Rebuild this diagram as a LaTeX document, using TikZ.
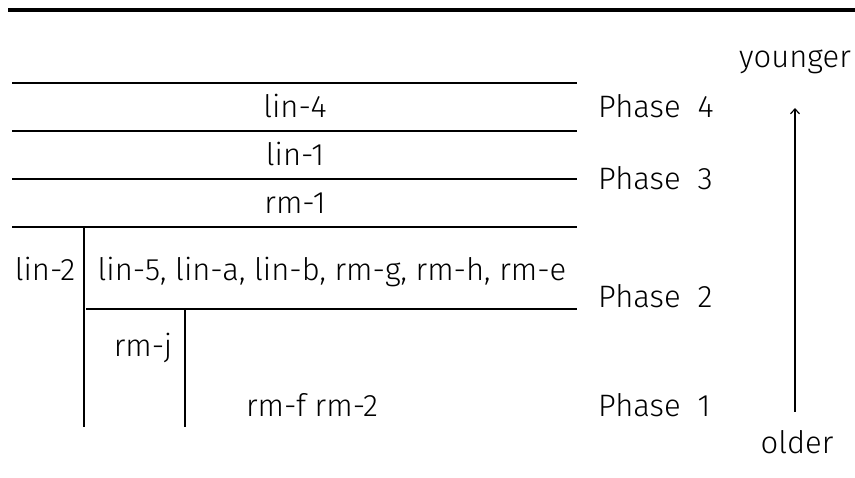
\documentclass[tikz,border=0pt]{standalone}
\usepackage{fontspec}
\setmainfont{Fira Sans Light}
\usetikzlibrary{arrows.meta,positioning}
\tikzset{
    rule/.style = {line width=1.6pt},
    toprule/.style = {line width=3.5pt},
    cell/.style = {inner sep=0pt, anchor=base},
    phase/.style = {inner sep=0pt, anchor=base west},
    age/.style = {inner sep=0pt, anchor=base}
}
\newcommand{\phaselabel}[1]{Phase\hspace{0.55em}#1}

\begin{document}
\begin{tikzpicture}[x=1pt,y=-1pt,font=\fontsize{31}{36}\selectfont]
    \useasboundingbox (0,0) rectangle (855,478);

    % rules of the table
    \draw[toprule] (8,10) -- (855,10);
    \draw[rule] (12,83) -- (577,83);
    \draw[rule] (12,131) -- (577,131);
    \draw[rule] (12,179) -- (577,179);
    \draw[rule] (12,227) -- (577,227);
    \draw[rule] (86,309) -- (577,309);
    \draw[rule] (84,227) -- (84,427);
    \draw[rule] (185,309) -- (185,427);

    % units
    \node[cell] (lin4) at (295,118) {lin-4};
    \node[cell] (lin1) at (295,166) {lin-1};
    \node[cell] (rm1) at (295,214) {rm-1};
    \node[cell] (lin2) at (45,281) {lin-2};
    \node[cell] (lin5) at (332,281) {lin-5, lin-a, lin-b, rm-g, rm-h, rm-e};
    \node[cell] (rmj) at (143,357) {rm-j};
    \node[cell] (rmf) at (312,417) {rm-f rm-2};

    % phases
    \node[phase] (ph4) at (598,118) {\phaselabel{4}};
    \node[phase] (ph3) at (598,190) {\phaselabel{3}};
    \node[phase] (ph2) at (598,308) {\phaselabel{2}};
    \node[phase] (ph1) at (598,417) {\phaselabel{1}};

    % age arrow
    \node[age] (young) at (795,68) {younger};
    \node[age] (old) at (797,454) {older};
    \coordinate (arrbot) at (795,412);
    \coordinate (arrtop) at (795,108);
    \draw[-{Straight Barb[length=5pt,width=9pt]},line width=1.2pt] (arrbot) -- (arrtop);
\end{tikzpicture}
\end{document}
